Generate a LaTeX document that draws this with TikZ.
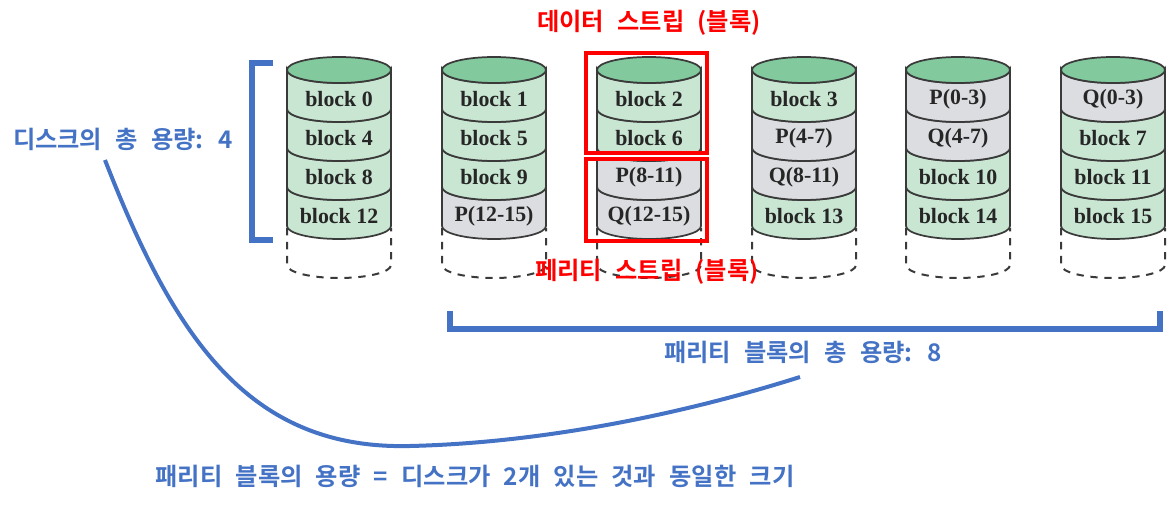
\documentclass[tikz,border=0pt]{standalone}
\usepackage{fontspec}
\setmainfont{Liberation Serif}
\newfontfamily\kofont{Noto Sans CJK KR}[BoldFont={* Bold},WordSpace=2.4]
\usetikzlibrary{calc}
\definecolor{blk_green}{RGB}{201, 230, 210}
\definecolor{top_green}{RGB}{130, 201, 157}
\definecolor{par_gray}{RGB}{220, 221, 224}
\definecolor{drum_line}{RGB}{58, 58, 58}
\definecolor{note_blue}{RGB}{68, 114, 196}
\tikzstyle{seg}=[draw=drum_line,line width=1.3pt]
\tikzstyle{txt}=[text=black!85,font=\fontsize{16.4}{18}\selectfont\bfseries,inner sep=0pt]
\tikzstyle{rednote}=[text=red,font=\kofont\fontsize{18.2}{20}\selectfont\bfseries,inner sep=0pt]
\tikzstyle{bluenote}=[text=note_blue,font=\kofont\fontsize{18.2}{20}\selectfont\bfseries,inner sep=0pt]
\tikzstyle{redbox}=[draw=red,line width=3pt]
\tikzstyle{brack}=[draw=note_blue,line width=4.5pt]
% one layer of a disk: name, x, top y, fill, text
\newcommand{\blk}[5]{
  \draw [style=seg,fill=#4] (#2-52,#3) -- (#2-52,#3+39)
    arc [start angle=180,end angle=0,x radius=52,y radius=13]
    -- (#2+52,#3) arc [start angle=0,end angle=180,x radius=52,y radius=13] -- cycle;
  \node [style=txt] (#1) at (#2,#3+29) {#5};
}
\begin{document}
\begin{tikzpicture}[x=0.75pt,y=-0.75pt]
  \useasboundingbox (0,0) rectangle (1175,505);
  % spare part of each disk
  \foreach \x in {339,494,649,804,958,1113} {
    \draw [draw=drum_line,line width=1.5pt,dash pattern=on 5.5pt off 5pt] (\x-52,228) -- (\x-52,265)
      arc [start angle=180,end angle=0,x radius=52,y radius=13] -- (\x+52,228);
  }
  \blk{b12}{339}{187}{blk_green}{block 12}
  \blk{b8}{339}{148}{blk_green}{block 8}
  \blk{b4}{339}{109}{blk_green}{block 4}
  \blk{b0}{339}{70}{blk_green}{block 0}
  \blk{p1215}{494}{187}{par_gray}{P(12-15)}
  \blk{b9}{494}{148}{blk_green}{block 9}
  \blk{b5}{494}{109}{blk_green}{block 5}
  \blk{b1}{494}{70}{blk_green}{block 1}
  \blk{q1215}{649}{187}{par_gray}{Q(12-15)}
  \blk{p811}{649}{148}{par_gray}{P(8-11)}
  \blk{b6}{649}{109}{blk_green}{block 6}
  \blk{b2}{649}{70}{blk_green}{block 2}
  \blk{b13}{804}{187}{blk_green}{block 13}
  \blk{q811}{804}{148}{par_gray}{Q(8-11)}
  \blk{p47}{804}{109}{par_gray}{P(4-7)}
  \blk{b3}{804}{70}{blk_green}{block 3}
  \blk{b14}{958}{187}{blk_green}{block 14}
  \blk{b10}{958}{148}{blk_green}{block 10}
  \blk{q47}{958}{109}{par_gray}{Q(4-7)}
  \blk{p03}{958}{70}{par_gray}{P(0-3)}
  \blk{b15}{1113}{187}{blk_green}{block 15}
  \blk{b11}{1113}{148}{blk_green}{block 11}
  \blk{b7}{1113}{109}{blk_green}{block 7}
  \blk{q03}{1113}{70}{par_gray}{Q(0-3)}
  \foreach \x in {339,494,649,804,958,1113} {
    \draw [style=seg,fill=top_green] (\x,70) ellipse [x radius=52,y radius=13];
  }
  % stripes
  \draw [draw=white,line width=1.5pt] (584,156) -- (709,156);
  \draw [style=redbox] (586,53) rectangle (707,153);
  \draw [style=redbox] (586,159) rectangle (707,241);
  \node [style=rednote] (datalabel) at (649,23) {데이터 스트립 (블록)};
  \node [style=rednote] (paritylabel) at (647,272) {페리티 스트립 (블록)};
  % brackets
  \draw [style=brack] (273,63) -- (251.5,63) -- (251.5,240) -- (273,240);
  \draw [style=brack] (450,311) -- (450,329) -- (1160,329) -- (1160,311);
  \node [style=bluenote] (disklabel) at (123,139) {디스크의 총 용량: 4};
  \node [style=bluenote] (sumlabel) at (803,352) {패리티 블록의 총 용량: 8};
  \node [style=bluenote] (samelabel) at (475,476) {패리티 블록의 용량 = 디스크가 2개 있는 것과 동일한 크기};
  \coordinate (curvestart) at (105,160);
  \coordinate (curvelow) at (410,446);
  \coordinate (curveend) at (800,377);
  \draw [draw=note_blue,line width=3pt] (curvestart) .. controls (175,340) and (250,450) .. (curvelow)
    .. controls (540,443) and (680,415) .. (curveend);
\end{tikzpicture}
\end{document}
